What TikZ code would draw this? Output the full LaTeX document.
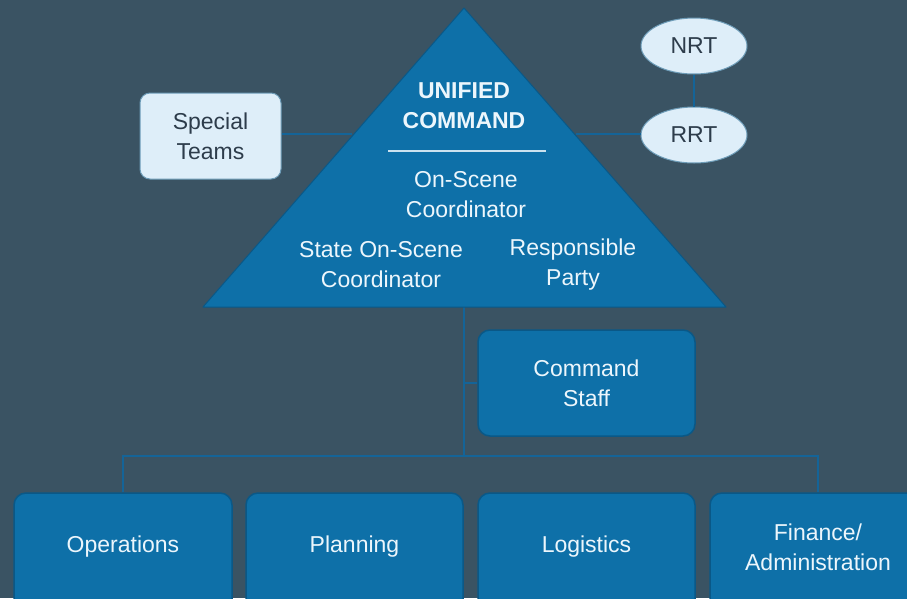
\documentclass[tikz,border=0pt]{standalone}
\usepackage{fontspec}
\setmainfont{Liberation Sans}
\usetikzlibrary{shapes.geometric}
\definecolor{bg}{RGB}{58,83,99}
\definecolor{bluefill}{RGB}{14,112,168}
\definecolor{blueedge}{RGB}{10,88,135}
\definecolor{lightfill}{RGB}{222,238,249}
\definecolor{darktext}{RGB}{45,60,75}
\definecolor{whitetext}{RGB}{236,246,252}
\definecolor{connc}{RGB}{20,100,152}
\tikzset{
  bluebox/.style={draw=blueedge, line width=1.5pt, fill=bluefill, rounded corners=12pt,
    text=whitetext, align=center, inner sep=0pt, font=\fontsize{23}{30}\selectfont},
  lightbox/.style={draw=blueedge!60, line width=1pt, fill=lightfill, rounded corners=10pt,
    text=darktext, align=center, inner sep=0pt, font=\fontsize{23}{30}\selectfont},
  oval/.style={ellipse, draw=blueedge!60, line width=1pt, fill=lightfill,
    text=darktext, inner sep=0pt, minimum width=106pt, minimum height=56pt,
    font=\fontsize{23}{30}\selectfont},
  trilabel/.style={text=whitetext, align=center, inner sep=0pt, font=\fontsize{23}{30}\selectfont},
  conn/.style={draw=connc, line width=2pt}
}
\begin{document}
\begin{tikzpicture}[x=1pt,y=-1pt]
\useasboundingbox (0,0) rectangle (907,598);
\clip (0,0) rectangle (907,598);
\fill[bg] (0,0) rectangle (907,598);

% triangle corners and connector ends
\coordinate (apex) at (464,8);
\coordinate (bl) at (203,307);
\coordinate (br) at (726,307);
\coordinate (tL) at (352,134);
\coordinate (tR) at (576,134);
\coordinate (tB) at (464,307);
\coordinate (bus) at (464,456);
\coordinate (sepL) at (388,151);
\coordinate (sepR) at (546,151);

\node[lightbox, minimum width=141pt, minimum height=86pt] (st) at (210.5,136) {Special\\Teams};
\node[oval] (nrt) at (694,46) {NRT};
\node[oval] (rrt) at (694,135) {RRT};
\node[bluebox, minimum width=217pt, minimum height=106pt] (cs) at (586.5,383) {Command\\Staff};
\node[bluebox, minimum width=218pt, minimum height=130pt] (ops) at (123,558) {};
\node[bluebox, minimum width=217pt, minimum height=130pt] (pla) at (354.5,558) {};
\node[bluebox, minimum width=217pt, minimum height=130pt] (log) at (586.5,558) {};
\node[bluebox, minimum width=230pt, minimum height=130pt] (fin) at (825,558) {};
\node[trilabel] (opsT) at (123,547) {Operations};
\node[trilabel] (plaT) at (354.5,547) {Planning};
\node[trilabel] (logT) at (586.5,547) {Logistics};
\node[trilabel] (finT) at (818,547) {Finance/\\Administration};

\draw[conn] (st.east |- tL) -- (tL);
\draw[conn] (tR) -- (rrt.west |- tR);
\draw[conn] (nrt) -- (rrt);
\draw[conn] (tB) -- (bus);
\draw[conn] (tB |- cs.west) -- (cs.west);
\draw[conn] (ops.north) |- (bus);
\draw[conn] (bus) -| (finT.center |- fin.north);

\fill[bluefill, draw=blueedge, line width=1pt, line join=round] (apex) -- (br) -- (bl) -- cycle;
\draw[whitetext!85!bluefill, line width=1.2pt] (sepL) -- (sepR);

\node[trilabel, font=\fontsize{23}{30}\selectfont\bfseries] (uc) at (464,106) {UNIFIED\\COMMAND};
\node[trilabel] (osc) at (466,195) {On-Scene\\Coordinator};
\node[trilabel] (sosc) at (381,265) {State On-Scene\\Coordinator};
\node[trilabel] (rp) at (573,265) {Responsible\\Party};
\end{tikzpicture}
\end{document}
